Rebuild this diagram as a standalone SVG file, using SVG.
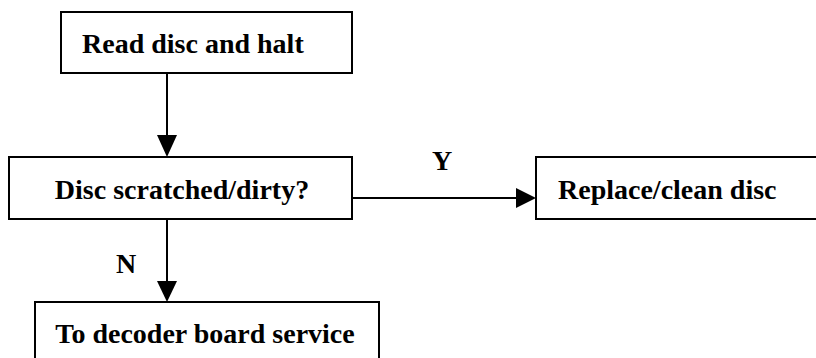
<svg xmlns="http://www.w3.org/2000/svg" width="816" height="358" viewBox="0 0 816 358">
  <defs>
    <style>
      .box { fill: #ffffff; stroke: #000000; stroke-width: 2; }
      .line { fill: none; stroke: #000000; stroke-width: 2; }
      .head { fill: #000000; stroke: none; }
      .label { font-family: "Liberation Serif", "Times New Roman", serif; font-weight: bold; font-size: 28px; fill: #000000; }
    </style>
  </defs>
  <rect width="816" height="358" fill="#ffffff"/>

  <g id="node-read">
    <rect class="box" x="61" y="12" width="291" height="61"/>
    <text class="label" x="82" y="53">Read disc and halt</text>
  </g>

  <g id="node-check">
    <rect class="box" x="9" y="157" width="343" height="62"/>
    <text class="label" x="182" y="199" text-anchor="middle">Disc scratched/dirty?</text>
  </g>

  <g id="node-replace">
    <rect class="box" x="536" y="157" width="300" height="62"/>
    <text class="label" x="558" y="199">Replace/clean disc</text>
  </g>

  <g id="node-decoder">
    <rect class="box" x="35" y="302" width="344" height="70"/>
    <text class="label" x="205" y="343" text-anchor="middle">To decoder board service</text>
  </g>

  <g id="connectors">
    <line class="line" x1="167" y1="73" x2="167" y2="138"/>
    <polygon class="head" points="157,135 177,135 167,157"/>

    <line class="line" x1="352" y1="198" x2="519" y2="198"/>
    <polygon class="head" points="516,188 516,208 536,198"/>
    <text class="label" x="442" y="170" text-anchor="middle">Y</text>

    <line class="line" x1="167" y1="219" x2="167" y2="284"/>
    <polygon class="head" points="157,281 177,281 167,302"/>
    <text class="label" x="126" y="273" text-anchor="middle">N</text>
  </g>
</svg>
